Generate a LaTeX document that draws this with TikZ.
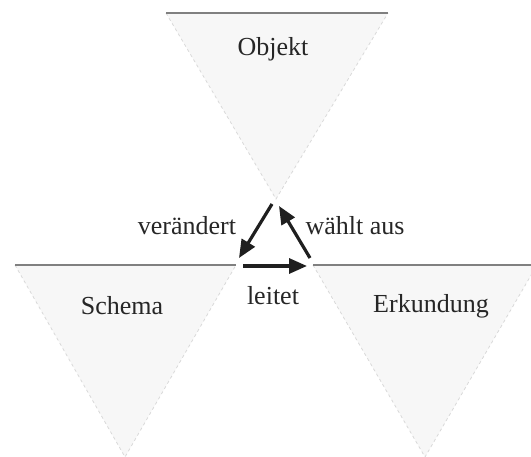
\documentclass[tikz,border=0pt]{standalone}
\usepackage{fontspec}
\setmainfont{Liberation Serif}
\usetikzlibrary{arrows.meta}
\begin{document}
\begin{tikzpicture}[x=1pt,y=-1pt,
  tri/.style={fill=black!3, draw=black!15, dash pattern=on 3pt off 3pt, line width=0.8pt},
  topedge/.style={draw=black!50, line width=1.1pt},
  lbl/.style={font=\fontsize{26}{30}\selectfont, text=black!85, anchor=base, inner sep=0pt},
  arr/.style={line width=3.2pt, black!88, -{Triangle[length=18pt,width=15pt]}}]
\useasboundingbox (0,0) rectangle (531,457);
% triangles
\path[tri] (166,13) -- (276,199) -- (388,13);
\path[tri] (15,265) -- (125,457) -- (236,265);
\path[tri] (313,265) -- (425,457) -- (537,265);
\draw[topedge] (166,13) -- (388,13);
\draw[topedge] (15,265) -- (236,265);
\draw[topedge] (313,265) -- (531,265);
% labels
\node[lbl] (obj) at (273,56) {Objekt};
\node[lbl] (sch) at (122,315) {Schema};
\node[lbl] (erk) at (431,313) {Erkundung};
\node[lbl] (lei) at (273,305) {leitet};
\node[lbl] (ver) at (187,235) {verändert};
\node[lbl] (wae) at (355,235) {wählt aus};
% arrows
\coordinate (a1) at (272,204);
\coordinate (a2) at (239,258);
\coordinate (b1) at (243,266);
\coordinate (b2) at (307,266);
\coordinate (c1) at (310,258);
\coordinate (c2) at (279,206);
\draw[arr] (a1) -- (a2);
\draw[arr] (b1) -- (b2);
\draw[arr] (c1) -- (c2);
\end{tikzpicture}
\end{document}
